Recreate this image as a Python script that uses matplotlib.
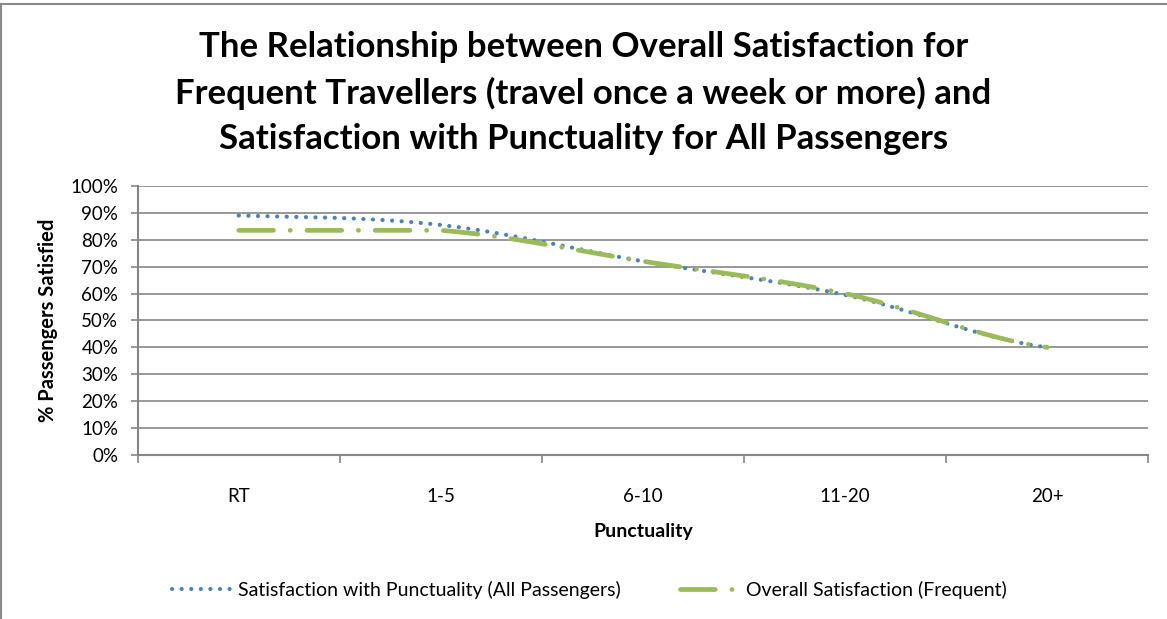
import matplotlib.pyplot as plt
import numpy as np
from matplotlib.lines import Line2D
from matplotlib.ticker import FixedLocator, PercentFormatter

plt.rcParams['font.family'] = ['Lato', 'DejaVu Sans']
plt.rcParams['lines.scale_dashes'] = False

categories = ['RT', '1-5', '6-10', '11-20', '20+']
punctuality_all = [89, 85.5, 72, 59.5, 40]
overall_frequent = [83.5, 83.5, 72, 60, 40]

title = ('The Relationship between Overall Satisfaction for\n'
         'Frequent Travellers (travel once a week or more) and\n'
         'Satisfaction with Punctuality for All Passengers')


def smooth(y, n=40):
    # catmull-rom curve through the points (excel "smoothed line"),
    # each segment kept between its two end values
    y = np.asarray(y, dtype=float)
    x = np.arange(len(y), dtype=float)
    px = np.concatenate([[2 * x[0] - x[1]], x, [2 * x[-1] - x[-2]]])
    py = np.concatenate([[y[0]], y, [y[-1]]])
    xs, ys = [], []
    t = np.linspace(0, 1, n)
    for i in range(1, len(px) - 2):
        seg = []
        for a0, a1, a2, a3 in ((px[i - 1], px[i], px[i + 1], px[i + 2]),
                               (py[i - 1], py[i], py[i + 1], py[i + 2])):
            seg.append(0.5 * (2 * a1 + (-a0 + a2) * t
                              + (2 * a0 - 5 * a1 + 4 * a2 - a3) * t ** 2
                              + (-a0 + 3 * a1 - 3 * a2 + a3) * t ** 3))
        lo, hi = min(py[i], py[i + 1]), max(py[i], py[i + 1])
        xs.extend(seg[0])
        ys.extend(np.clip(seg[1], lo, hi))
    return np.array(xs), np.array(ys)


fig = plt.figure(figsize=(11.67, 6.19), dpi=100)
# chart border (only top and left edges are visible in the picture)
fig.add_artist(Line2D([0.001, 0.001], [0.0, 0.994], transform=fig.transFigure,
                      color='#8a8a8a', linewidth=1.5))
fig.add_artist(Line2D([0.001, 1.0], [0.994, 0.994], transform=fig.transFigure,
                      color='#8a8a8a', linewidth=1.5))

ax = fig.add_axes([0.118, 0.265, 0.866, 0.4346])

grid_c = '#868686'
blue_ls = (0, (0.1, 6.8))
green_ls = (0, (25, 12, 0.1, 12))
sx, sy = smooth(punctuality_all)
ax.plot(sx, sy, color='#4F81BD', linewidth=3.0, linestyle=blue_ls,
        dash_capstyle='round', zorder=3)
gx, gy = smooth(overall_frequent)
ax.plot(gx, gy, color='#9BBB59', linewidth=3.4, linestyle=green_ls,
        dash_capstyle='round', zorder=3)

ax.set_xlim(-0.5, len(categories) - 0.5)
ax.set_ylim(0, 100)
ax.yaxis.set_major_locator(FixedLocator(np.arange(0, 101, 10)))
ax.yaxis.set_major_formatter(PercentFormatter(decimals=0))
ax.grid(axis='y', color=grid_c, linewidth=1.2)
ax.set_axisbelow(True)

ax.set_xticks(np.arange(-0.5, len(categories), 1.0))
ax.set_xticklabels([])
ax.set_xticks(np.arange(len(categories)), minor=True)
ax.set_xticklabels(categories, minor=True)
ax.tick_params(axis='x', which='major', length=6, color=grid_c, width=1.2)
ax.tick_params(axis='x', which='minor', length=0, pad=24, labelsize=13.5)
ax.tick_params(axis='y', length=5, color=grid_c, width=1.2, labelsize=13.5, pad=9)

for side in ('top', 'right'):
    ax.spines[side].set_visible(False)
for side in ('left', 'bottom'):
    ax.spines[side].set_color(grid_c)
    ax.spines[side].set_linewidth(1.5)

ax.set_xlabel('Punctuality', fontsize=14, fontweight='bold')
ax.xaxis.label.set_va('center')
ax.xaxis.set_label_coords(0.5, -0.286)
ax.set_ylabel('% Passengers Satisfied', fontsize=14.5, fontweight='bold')
ax.yaxis.label.set_va('center')
ax.yaxis.set_label_coords(-0.089, 0.5)

fig.text(0.5, 0.850, title, ha='center', va='center', fontsize=25,
         fontweight='bold', linespacing=1.5)

handles = [Line2D([], [], color='#4F81BD', linewidth=3.0, linestyle=blue_ls,
                  dash_capstyle='round'),
           Line2D([], [], color='#9BBB59', linewidth=3.4, linestyle=green_ls,
                  dash_capstyle='round')]
labels = ['Satisfaction with Punctuality (All Passengers)',
          'Overall Satisfaction (Frequent)']
fig.legend(handles, labels, loc='center', bbox_to_anchor=(0.505, 0.047), ncol=2,
           frameon=False, fontsize=14, handlelength=3.0, columnspacing=3.0,
           handletextpad=0.4)

fig.savefig('out.png', dpi=100)
